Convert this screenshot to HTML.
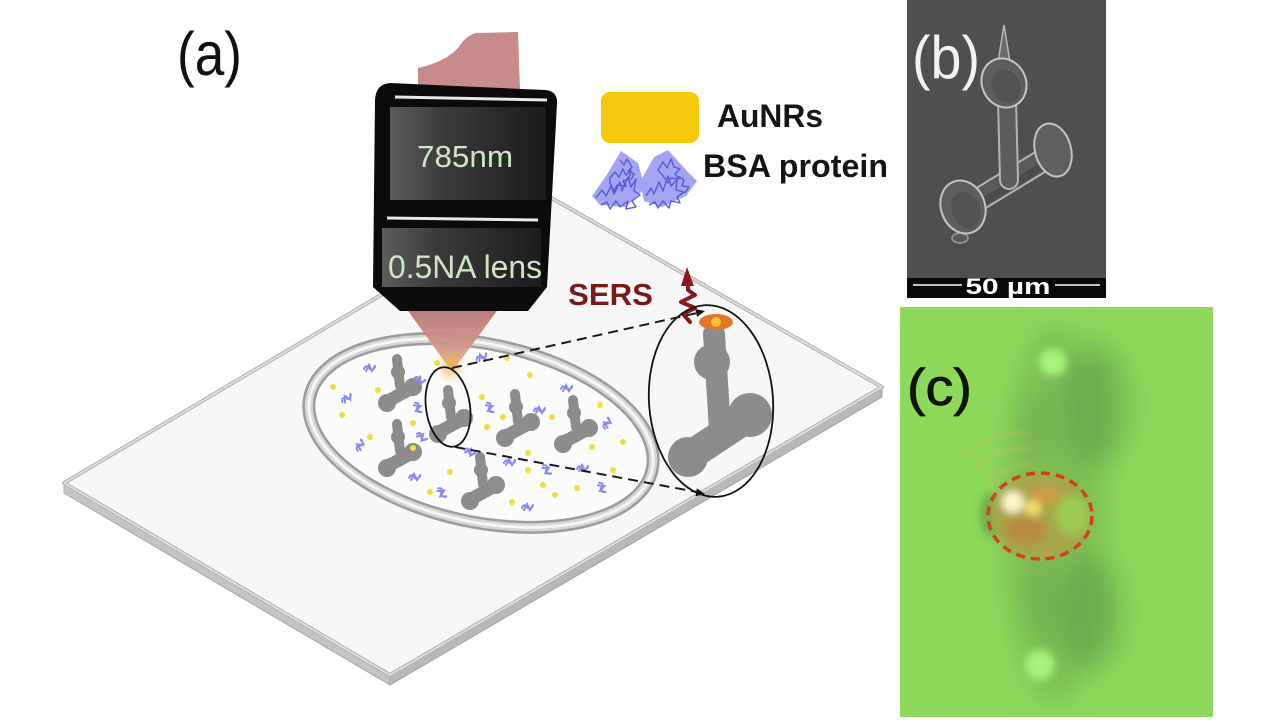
<!DOCTYPE html>
<html><head><meta charset="utf-8"><style>
html,body{margin:0;padding:0;background:#fff;}
svg{display:block;}
</style></head><body>
<svg width="1280" height="720" viewBox="0 0 1280 720" xmlns="http://www.w3.org/2000/svg">
<defs>
 <linearGradient id="panel" x1="0" y1="0" x2="1" y2="0">
  <stop offset="0" stop-color="#5c5c5c"/><stop offset="0.35" stop-color="#3a3a3a"/><stop offset="1" stop-color="#1c1c1c"/>
 </linearGradient>
 <linearGradient id="cone" x1="0" y1="0" x2="0" y2="1">
  <stop offset="0" stop-color="#b57474"/><stop offset="0.65" stop-color="#d49a8c"/><stop offset="1" stop-color="#f2c070"/>
 </linearGradient>
 <filter id="b2" x="-50%" y="-50%" width="200%" height="200%"><feGaussianBlur stdDeviation="2"/></filter>
 <filter id="b4" x="-50%" y="-50%" width="200%" height="200%"><feGaussianBlur stdDeviation="4"/></filter>
 <filter id="b12" x="-50%" y="-50%" width="200%" height="200%"><feGaussianBlur stdDeviation="14"/></filter>
 <clipPath id="cc"><rect x="900" y="307" width="313" height="410"/></clipPath>
 <g id="st" fill="#8c8c8c" stroke="#8c8c8c" stroke-linecap="round">
  <line x1="0" y1="2" x2="3" y2="29" stroke-width="10"/>
  <circle cx="1" cy="15" r="7" stroke="none"/>
  <line x1="-9" y1="44" x2="15" y2="31" stroke-width="13"/>
  <circle cx="-10" cy="46" r="9" stroke="none"/>
  <circle cx="16" cy="30" r="9" stroke="none"/>
 </g>
 <g id="pr" fill="none" stroke="#8a8af0" stroke-width="2" stroke-linecap="round">
  <path d="M-6,1 q2,-5 5,-1 q3,4 6,-1 M-4,3 l3,-6 l3,6 l3,-5"/>
 </g>
</defs>

<rect width="1280" height="720" fill="#ffffff"/>

<!-- (a) label -->
<text x="177" y="75" font-family="Liberation Sans, sans-serif" font-size="61" fill="#111" textLength="65" lengthAdjust="spacingAndGlyphs">(a)</text>

<!-- glass slide -->
<polygon points="64,483 390,675 390,685 64,493" fill="#c4c4c4" stroke="#a8a8a8" stroke-width="1"/>
<polygon points="390,675 882,387 882,397 390,685" fill="#b8b8b8" stroke="#a4a4a4" stroke-width="1"/>
<polygon points="64,483 548,196 882,387 390,675" fill="#f7f7f7" stroke="#b8b8b8" stroke-width="4" stroke-linejoin="round"/>
<polygon points="64,483 548,196 882,387 390,675" fill="none" stroke="#e2e2e2" stroke-width="1.5" stroke-linejoin="round"/>

<!-- ring well -->
<g transform="translate(481,433) rotate(12)">
 <ellipse rx="175" ry="89" fill="#fcfcfc" stroke="#9c9c9c" stroke-width="13"/>
 <ellipse rx="175" ry="89" fill="none" stroke="#d6d6d6" stroke-width="8"/>
 <ellipse rx="175" ry="89" fill="none" stroke="#f6f6f6" stroke-width="3"/>
</g>

<!-- structures in well -->
<use href="#st" transform="translate(397,357)"/>
<use href="#st" transform="translate(448,388)"/>
<use href="#st" transform="translate(515,392)"/>
<use href="#st" transform="translate(573,398)"/>
<use href="#st" transform="translate(397,422)"/>
<use href="#st" transform="translate(480,455)"/>

<!-- gold dots -->
<g fill="#f0de40">
 <circle cx="333" cy="387" r="3"/><circle cx="342" cy="415" r="3"/><circle cx="378" cy="390" r="3"/>
 <circle cx="370" cy="437" r="3"/><circle cx="413" cy="423" r="3"/><circle cx="437" cy="363" r="3"/>
 <circle cx="507" cy="358" r="3"/><circle cx="530" cy="375" r="3"/>
 <circle cx="482" cy="397" r="3"/><circle cx="503" cy="417" r="3"/><circle cx="487" cy="427" r="3"/>
 <circle cx="552" cy="417" r="3"/><circle cx="592" cy="447" r="3"/><circle cx="623" cy="442" r="3"/>
 <circle cx="450" cy="472" r="3"/><circle cx="430" cy="492" r="3"/><circle cx="528" cy="453" r="3"/>
 <circle cx="528" cy="470" r="3"/><circle cx="543" cy="485" r="3"/><circle cx="555" cy="495" r="3"/>
 <circle cx="577" cy="488" r="3"/><circle cx="512" cy="502" r="3"/><circle cx="613" cy="470" r="3"/>
 <circle cx="413" cy="448" r="3"/><circle cx="600" cy="405" r="3"/>
</g>
<!-- proteins -->
<use href="#pr" transform="translate(370,368)"/>
<use href="#pr" transform="translate(347,398) rotate(-30)"/>
<use href="#pr" transform="translate(420,380) rotate(20)"/>
<use href="#pr" transform="translate(418,408) rotate(70)"/>
<use href="#pr" transform="translate(360,445) rotate(-60)"/>
<use href="#pr" transform="translate(415,477)"/>
<use href="#pr" transform="translate(422,437) rotate(40)"/>
<use href="#pr" transform="translate(490,408) rotate(70)"/>
<use href="#pr" transform="translate(482,357) rotate(-20)"/>
<use href="#pr" transform="translate(540,410)"/>
<use href="#pr" transform="translate(567,388)"/>
<use href="#pr" transform="translate(607,423) rotate(-60)"/>
<use href="#pr" transform="translate(470,452) rotate(30)"/>
<use href="#pr" transform="translate(510,462)"/>
<use href="#pr" transform="translate(547,470) rotate(60)"/>
<use href="#pr" transform="translate(583,468)"/>
<use href="#pr" transform="translate(602,488) rotate(70)"/>
<use href="#pr" transform="translate(442,493) rotate(60)"/>
<use href="#pr" transform="translate(528,507)"/>

<!-- laser beam top -->
<path d="M418,90 L418,68 Q445,62 458,48 Q465,36 476,33 L518,32 L520,90 Z" fill="#c78b8b"/>
<!-- focused cone -->
<polygon points="406,308 499,308 452,372" fill="url(#cone)" opacity="0.95"/>
<circle cx="451" cy="368" r="10" fill="#f4b040" opacity="0.55" filter="url(#b4)"/>

<!-- objective -->
<path d="M373,287 L375,100 Q376,84 390,83 L545,90 Q558,91 557,104 L547,287 L528,311 L400,311 Z" fill="#0b0b0b"/>
<line x1="395" y1="97" x2="547" y2="100" stroke="#e8e8e8" stroke-width="3"/>
<rect x="390" y="107" width="156" height="93" fill="url(#panel)"/>
<line x1="387" y1="218" x2="538" y2="220" stroke="#e8e8e8" stroke-width="3"/>
<rect x="382" y="228" width="159" height="59" fill="url(#panel)"/>
<text x="465" y="167" text-anchor="middle" font-family="Liberation Sans, sans-serif" font-size="31" fill="#cfe6c6" textLength="96" lengthAdjust="spacingAndGlyphs">785nm</text>
<text x="465" y="278" text-anchor="middle" font-family="Liberation Sans, sans-serif" font-size="32" fill="#cfe6c6" textLength="154" lengthAdjust="spacingAndGlyphs">0.5NA lens</text>

<!-- legend -->
<rect x="601" y="92" width="98" height="51" rx="9" fill="#f8c80a"/>
<text x="717" y="127" font-family="Liberation Sans, sans-serif" font-weight="bold" font-size="32" fill="#151515" textLength="106" lengthAdjust="spacingAndGlyphs">AuNRs</text>
<g>
 <polygon points="592,196 606,176 621,151 638,163 645,188 626,207 600,205" fill="#a4a4f2"/>
 <polygon points="640,182 654,157 668,150 686,170 697,181 686,196 662,207 644,201" fill="#a4a4f2"/>
 <g fill="none" stroke="#5a5ad6" stroke-width="1.4" stroke-linejoin="round">
  <path d="M596,198 l6,-8 l4,6 l5,-10 l3,8 l6,-12 l2,9 l6,-14 l3,10 l5,-8 l-2,12 l6,4 l-8,6 l4,6 l-10,2 l2,-8 l-8,6 l-4,-6 l-6,8 l-3,-7 l-6,3"/>
  <path d="M610,178 l5,-6 l4,5 l4,-8 l3,6 l5,-5 l-2,9 l-6,2 l3,5 l-9,-1 l-3,6 l-4,-8 z"/>
  <path d="M620,160 l4,5 l3,-6 l5,8 l-4,4 l6,3 l-3,6"/>
  <path d="M646,196 l5,-8 l3,6 l5,-12 l4,9 l5,-15 l3,10 l6,-6 l-1,10 l8,2 l-7,5 l3,6 l-9,-2 l-2,7 l-6,-7 l-5,7 l-3,-6 l-6,3"/>
  <path d="M658,170 l5,-8 l4,6 l4,-9 l3,8 l6,2 l-5,5 l4,5 l-8,-1 l-3,5 l-4,-6 z"/>
  <path d="M678,176 l6,4 l-2,6 l7,1 l-4,6"/>
 </g>
</g>
<text x="703" y="177" font-family="Liberation Sans, sans-serif" font-weight="bold" font-size="32" fill="#151515" textLength="185" lengthAdjust="spacingAndGlyphs">BSA protein</text>

<!-- SERS -->
<text x="568" y="305" font-family="Liberation Sans, sans-serif" font-weight="bold" font-size="31" fill="#7a1b1b" textLength="85" lengthAdjust="spacingAndGlyphs">SERS</text>
<g stroke="#8b1a1a" stroke-width="4" fill="none" stroke-linecap="round" stroke-linejoin="round">
 <polyline points="688,282 688,290 695,295 681,302 695,308 683,314 690,322"/>
</g>
<polygon points="681,286 687,267 694,286" fill="#8b1a1a"/>

<!-- big structure -->
<g fill="#8c8c8c" stroke="#8c8c8c" stroke-linecap="round">
 <line x1="714" y1="334" x2="720" y2="430" stroke-width="22"/>
 <circle cx="712" cy="362" r="18" stroke="none"/>
 <line x1="688" y1="457" x2="750" y2="416" stroke-width="30"/>
 <circle cx="688" cy="457" r="20" stroke="none"/>
 <circle cx="750" cy="415" r="22" stroke="none"/>
</g>
<ellipse cx="716" cy="322" rx="17" ry="8" fill="#e0782c"/>
<circle cx="716" cy="322" r="5" fill="#f2c232"/>

<!-- ellipses -->
<ellipse cx="448" cy="407" rx="22" ry="40" transform="rotate(-8 448 407)" fill="none" stroke="#111" stroke-width="1.8"/>
<ellipse cx="711" cy="401" rx="62" ry="96" transform="rotate(-4 711 401)" fill="none" stroke="#111" stroke-width="1.8"/>

<!-- dashed connectors -->
<line x1="452" y1="368" x2="697" y2="313" stroke="#1a1a1a" stroke-width="2" stroke-dasharray="10,6"/>
<polygon points="705,311 697.1,316.9 695.3,309.1" fill="#111"/>
<line x1="455" y1="447" x2="697" y2="492" stroke="#1a1a1a" stroke-width="2" stroke-dasharray="10,6"/>
<polygon points="705,494 695.5,496.2 696.9,488.4" fill="#111"/>

<!-- panel (b) -->
<rect x="907" y="0" width="199" height="298" fill="#4f4f4f"/>
<g stroke-linecap="round">
 <line x1="968" y1="206" x2="1050" y2="156" stroke="#b4b4b4" stroke-width="24"/>
 <line x1="968" y1="206" x2="1050" y2="156" stroke="#595959" stroke-width="20"/>
 <line x1="970" y1="210" x2="1048" y2="163" stroke="#4a4a4a" stroke-width="8"/>
 <line x1="1007" y1="100" x2="1009" y2="180" stroke="#b4b4b4" stroke-width="20"/>
 <line x1="1007" y1="100" x2="1009" y2="180" stroke="#5c5c5c" stroke-width="16"/>
</g>
<ellipse cx="960" cy="238" rx="8" ry="5" fill="#5a5a5a" stroke="#9a9a9a" stroke-width="1.5"/>
<ellipse cx="963" cy="207" rx="22" ry="27" transform="rotate(-20 963 207)" fill="#5e5e5e" stroke="#c4c4c4" stroke-width="2"/>
<ellipse cx="966" cy="210" rx="14" ry="19" transform="rotate(-20 966 210)" fill="#525252"/>
<ellipse cx="1053" cy="150" rx="18" ry="27" transform="rotate(-15 1053 150)" fill="#606060" stroke="#c4c4c4" stroke-width="2"/>
<polygon points="998,62 1004,25 1010,62" fill="#6a6a6a" stroke="#b8b8b8" stroke-width="1.5"/>
<ellipse cx="1004" cy="83" rx="22" ry="25" transform="rotate(-25 1004 83)" fill="#5e5e5e" stroke="#c4c4c4" stroke-width="2"/>
<ellipse cx="1006" cy="86" rx="14" ry="17" transform="rotate(-25 1006 86)" fill="#525252"/>
<text x="912" y="78" font-family="Liberation Sans, sans-serif" font-size="60" fill="#f2f2f2" textLength="68" lengthAdjust="spacingAndGlyphs">(b)</text>
<rect x="907" y="278" width="199" height="20" fill="#080808"/>
<line x1="913" y1="285" x2="962" y2="285" stroke="#fff" stroke-width="1.5"/>
<line x1="1055" y1="285" x2="1100" y2="285" stroke="#fff" stroke-width="1.5"/>
<text x="1008" y="294" text-anchor="middle" font-family="Liberation Sans, sans-serif" font-weight="bold" font-size="22" fill="#fff" textLength="85" lengthAdjust="spacingAndGlyphs">50 µm</text>

<!-- panel (c) -->
<g clip-path="url(#cc)">
 <rect x="900" y="307" width="313" height="410" fill="#8ed85c"/>
 <g filter="url(#b12)">
  <ellipse cx="1055" cy="515" rx="50" ry="190" fill="#78b452" opacity="0.7"/>
  <ellipse cx="1095" cy="405" rx="32" ry="62" fill="#64a04a" opacity="0.7"/>
  <ellipse cx="1090" cy="612" rx="30" ry="58" fill="#64a04a" opacity="0.7"/>
  <ellipse cx="1035" cy="425" rx="14" ry="35" fill="#6aa84c" opacity="0.55"/>
  <ellipse cx="1040" cy="600" rx="16" ry="40" fill="#6aa84c" opacity="0.5"/>
 </g>
 <circle cx="1053" cy="362" r="14" fill="#a6f27c" filter="url(#b4)"/>
 <circle cx="1040" cy="665" r="15" fill="#a6f27c" filter="url(#b4)"/>
 <g fill="none" stroke="#c8c060" stroke-width="3" opacity="0.45" filter="url(#b2)">
  <path d="M975,470 Q1000,445 1030,450"/>
  <path d="M965,455 Q995,428 1030,435"/>
  <path d="M985,485 Q1005,465 1030,465"/>
 </g>
 <ellipse cx="990" cy="515" rx="10" ry="22" fill="#5a9642" opacity="0.6" filter="url(#b4)"/>
 <g filter="url(#b4)">
  <ellipse cx="1040" cy="516" rx="50" ry="42" fill="#a8a448"/>
  <ellipse cx="1072" cy="515" rx="16" ry="20" fill="#9ccc56"/>
  <ellipse cx="1025" cy="530" rx="20" ry="14" fill="#b88c40"/>
  <ellipse cx="1045" cy="495" rx="14" ry="8" fill="#d09a48"/>
  <circle cx="1013" cy="502" r="11" fill="#fff6d0"/>
  <circle cx="1033" cy="508" r="8" fill="#f4e070"/>
 </g>
 <ellipse cx="1040" cy="516" rx="52" ry="43" fill="none" stroke="#d4401c" stroke-width="3.5" stroke-dasharray="9,6"/>
 <text x="907" y="405" font-family="Liberation Sans, sans-serif" font-size="52" fill="#0c140c" stroke="#0c140c" stroke-width="0.8" textLength="65" lengthAdjust="spacingAndGlyphs">(c)</text>
</g>
</svg>
</body></html>
